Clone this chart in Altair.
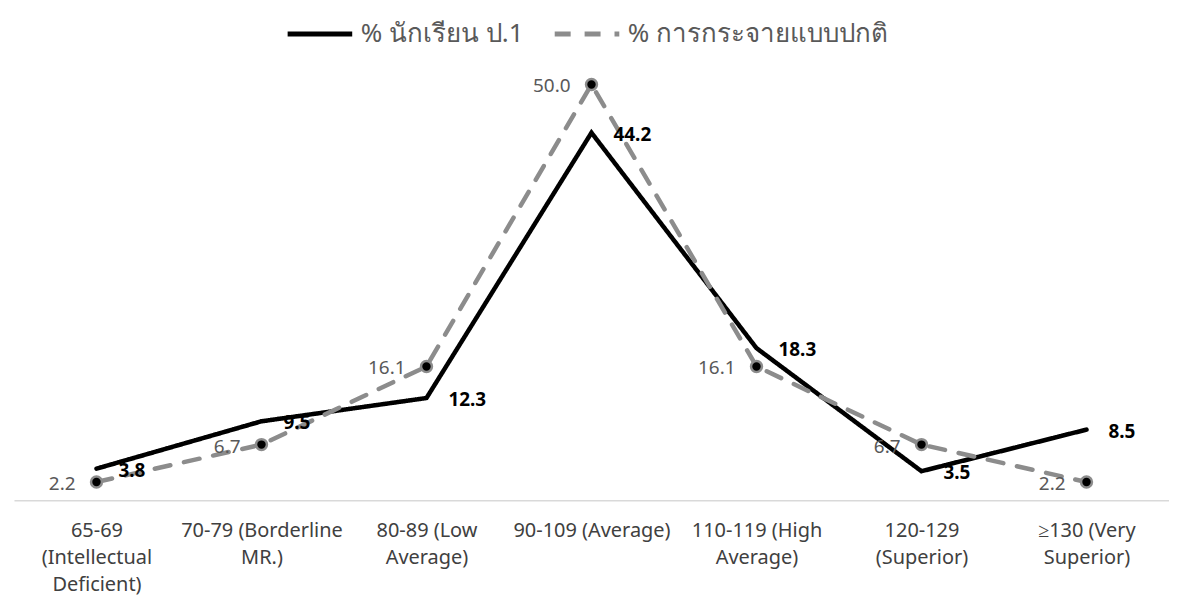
import altair as alt
import pandas as pd

categories = [
    "65-69|(Intellectual|Deficient)",
    "70-79 (Borderline|MR.)",
    "80-89 (Low|Average)",
    "90-109 (Average)",
    "110-119 (High|Average)",
    "120-129|(Superior)",
    "≥130 (Very|Superior)",
]
students = [3.8, 9.5, 12.3, 44.2, 18.3, 3.5, 8.5]
normal = [2.2, 6.7, 16.1, 50.0, 16.1, 6.7, 2.2]
series_names = ["% นักเรียน ป.1", "% การกระจายแบบปกติ"]

rows = []
for c, s, n in zip(categories, students, normal):
    rows.append({"cat": c, "series": series_names[0], "value": s})
    rows.append({"cat": c, "series": series_names[1], "value": n})
df = pd.DataFrame(rows)

FONT = "Noto Sans"

x = alt.X(
    "cat:N",
    sort=categories,
    title=None,
    axis=alt.Axis(
        labelAngle=0,
        labelExpr="split(datum.label, '|')",
        ticks=False,
        domainColor="#d9d9d9",
        domainWidth=1.5,
        labelFontSize=20,
        labelColor="#404040",
        labelPadding=20,
        labelLineHeight=27.5,
        labelLimit=400,
        labelFont=FONT,
    ),
)
y = alt.Y("value:Q", scale=alt.Scale(domain=[0, 55]), axis=None)

base = alt.Chart(df).encode(x=x, y=y)

lines = base.mark_line(strokeWidth=4.5, strokeCap="round").encode(
    color=alt.Color(
        "series:N",
        sort=series_names,
        scale=alt.Scale(domain=series_names, range=["#000000", "#8c8c8c"]),
        legend=alt.Legend(
            title=None,
            orient="none",
            legendX=272,
            legendY=-44,
            direction="horizontal",
            symbolType="stroke",
            symbolSize=4200,
            symbolStrokeWidth=5,
            labelFontSize=26,
            labelColor="#595959",
            labelFont=FONT,
            labelLimit=400,
            labelOffset=6,
            columnPadding=20,
        ),
    ),
    strokeDash=alt.StrokeDash(
        "series:N",
        sort=series_names,
        scale=alt.Scale(domain=series_names, range=[[1, 0], [16, 14]]),
        legend=None,
    ),
)

points = base.transform_filter(
    alt.datum.series == series_names[1]
).mark_point(filled=True, size=120, fill="#000000", stroke="#8c8c8c", strokeWidth=2.5, opacity=1)

label_students = base.transform_filter(
    alt.datum.series == series_names[0]
).mark_text(align="left", dx=22, dy=2, fontSize=19, fontWeight="bold", color="#000000", font=FONT).encode(
    text=alt.Text("value:Q", format=".1f")
)

label_normal = base.transform_filter(
    alt.datum.series == series_names[1]
).mark_text(align="right", dx=-21, dy=2, fontSize=19, color="#595959", font=FONT).encode(
    text=alt.Text("value:Q", format=".1f")
)

chart = (
    alt.layer(lines, points, label_students, label_normal)
    .properties(
        width=1159,
        height=459,
        padding={"left": 6, "top": 34, "right": 0, "bottom": 99},
        autosize=alt.AutoSizeParams(type="none"),
        background="white",
    )
    .configure_view(stroke=None)
)

chart.save("out.html", embed_options={"renderer": "svg", "actions": False})
